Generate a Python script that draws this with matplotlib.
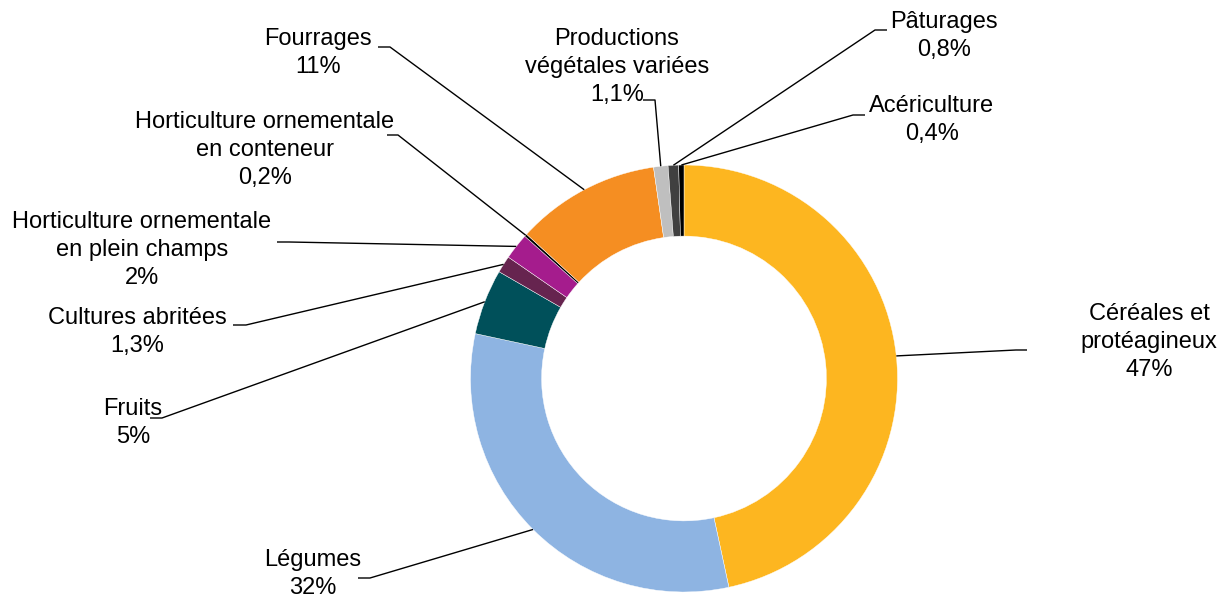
import numpy as np
import matplotlib

matplotlib.use("Agg")
import matplotlib.pyplot as plt

plt.rcParams["font.family"] = ["Liberation Sans", "DejaVu Sans"]

# Parts of the crop area, clockwise from 12 o'clock
categories = [
    "Céréales et\nprotéagineux",
    "Légumes",
    "Fruits",
    "Cultures abritées",
    "Horticulture ornementale\nen plein champs",
    "Horticulture ornementale\nen conteneur",
    "Fourrages",
    "Productions\nvégétales variées",
    "Pâturages",
    "Acériculture",
]
shares = [47, 32, 5, 1.3, 2, 0.2, 11, 1.1, 0.8, 0.4]
colors = [
    "#FDB620", "#8EB4E2", "#00505A", "#66244F", "#A51C8D",
    "#000000", "#F58E22", "#BFBFBF", "#404040", "#000000",
]

# label block centre (px from top-left) and leader elbow: (text end, bend)
label_pos = [
    (1149, 342), (313, 574), (133, 423), (137, 332), (142, 250),
    (265, 150), (318, 53), (617, 67), (944, 36), (932, 120),
]
leader_elbow = [
    ((1027, 350), (1016, 350)),
    ((358, 578), (370, 578)),
    ((150, 418), (162, 418)),
    ((233, 325), (246, 325)),
    ((277, 242), (289, 242)),
    ((387, 135), (398, 135)),
    ((378, 47), (390, 47)),
    ((643, 100), (655, 100)),
    ((887, 30), (875, 30)),
    ((865, 115), (853, 115)),
]

W, H = 1225, 597
CX, CY, R = 684, 378.5, 213.5


def fmt_pct(v):
    s = f"{v:g}".replace(".", ",")
    return s + "%"


fig = plt.figure(figsize=(W / 100, H / 100), dpi=100)
fig.patch.set_facecolor("white")
ax = fig.add_axes([0, 0, 1, 1])

wedges, _ = ax.pie(
    shares, colors=colors, startangle=90, counterclock=False,
    center=(CX, H - CY), radius=R, normalize=True,
    wedgeprops=dict(width=R * 0.333, edgecolor="white", linewidth=0.3),
)

# pie() resets the limits around its centre, so set the pixel frame afterwards
ax.set_xlim(0, W)
ax.set_ylim(0, H)
ax.set_aspect("equal")
ax.axis("off")

for w, cat, v, (lx, ly), (p0, p1) in zip(wedges, categories, shares,
                                         label_pos, leader_elbow):
    ang = np.deg2rad((w.theta1 + w.theta2) / 2)
    ax_, ay_ = CX + R * np.cos(ang), (H - CY) + R * np.sin(ang)
    ax.plot([p0[0], p1[0], ax_], [H - p0[1], H - p1[1], ay_],
            color="black", linewidth=1.0, solid_capstyle="butt")
    ax.text(lx, H - ly, f"{cat}\n{fmt_pct(v)}", fontsize=17,
            ha="center", va="center", linespacing=1.38, color="black")

fig.savefig("out.png", dpi=100, facecolor="white")
plt.close(fig)
